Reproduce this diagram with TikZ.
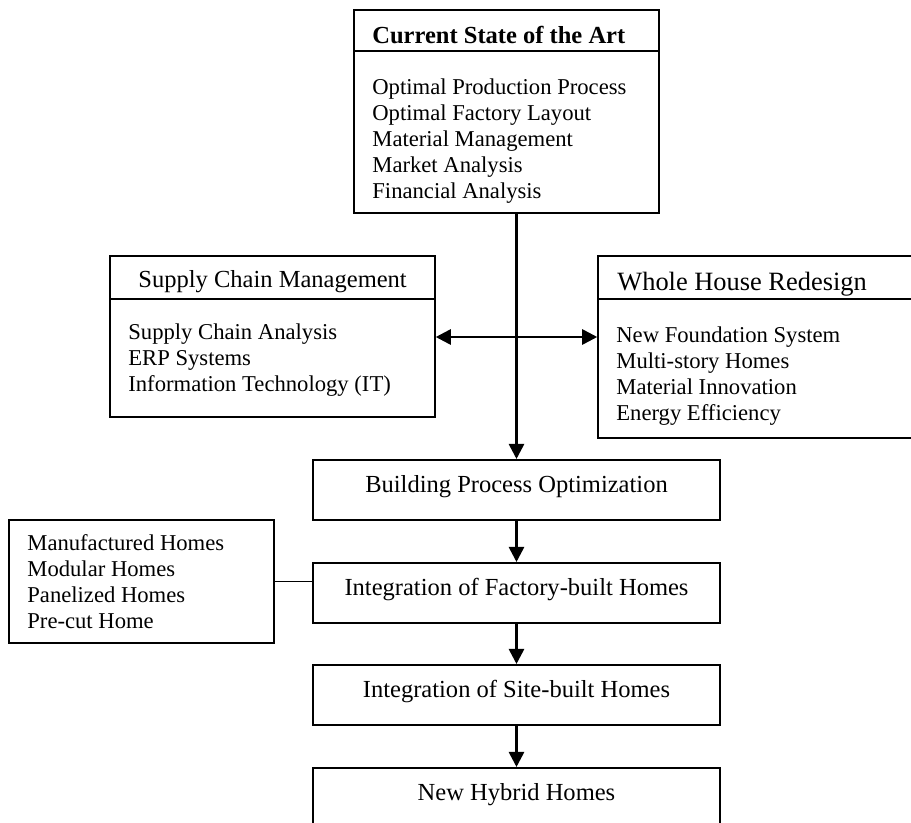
\documentclass[tikz,border=0pt]{standalone}
\usepackage{fontspec}
\setmainfont{Liberation Serif}
\usetikzlibrary{arrows.meta}

\begin{document}
\begin{tikzpicture}[x=0.53pt,y=-0.53pt,>={Triangle[length=8pt,width=8pt]},
	frame/.style={draw,line width=0.8pt,inner sep=0pt},
	item/.style={font=\fontsize{12}{14}\selectfont,anchor=base west,inner sep=0pt},
	head/.style={font=\fontsize{13}{15}\selectfont,anchor=base west,inner sep=0pt},
	stage/.style={draw,line width=0.8pt,anchor=north,font=\fontsize{13}{15}\selectfont,
		minimum width={407*0.53pt},inner sep=0pt,text height=17.5pt,text depth=14.3pt},
	link/.style={->,line width=1.4pt}]
	\clip (0,0) rectangle (911,823);

	%frames
	\node[frame,minimum width={305*0.53pt},minimum height={203*0.53pt}] (cur) at (506.5,111.5) {};
	\node[frame,minimum width={325*0.53pt},minimum height={161*0.53pt}] (scm) at (272.5,336.5) {};
	\node[frame,minimum width={340*0.53pt},minimum height={182*0.53pt}] (whr) at (768,347) {};
	\node[frame,minimum width={265*0.53pt},minimum height={123*0.53pt}] (man) at (141.5,581.5) {};
	%
	\draw[line width=0.8pt] (cur.west |- 0,51) -- (cur.east |- 0,51);
	\draw[line width=0.8pt] (scm.west |- 0,299) -- (scm.east |- 0,299);
	\draw[line width=0.8pt] (whr.west |- 0,299) -- (whr.east |- 0,299);

	%headings
	\node[head,font=\bfseries\fontsize{13}{15}\selectfont] (cur-h) at (372,43) {Current State of the Art};
	\node[head] (scm-h) at (138,287) {Supply Chain Management};
	\node[head,font=\fontsize{14}{16}\selectfont] (whr-h) at (617,290) {Whole House Redesign};

	%lists
	\foreach \t [count=\i] in {Optimal Production Process,Optimal Factory Layout,Material Management,Market Analysis,Financial Analysis}
	\node[item] (cur-\i) at (372,{94+26.2*(\i-1)}) {\t};
	
	\foreach \t [count=\i] in {Supply Chain Analysis,ERP Systems,Information Technology (IT)}
	\node[item] (scm-\i) at (128,{339+26.2*(\i-1)}) {\t};
	
	\foreach \t [count=\i] in {New Foundation System,Multi-story Homes,Material Innovation,Energy Efficiency}
	\node[item] (whr-\i) at (616,{342+26.2*(\i-1)}) {\t};
	
	\foreach \t [count=\i] in {Manufactured Homes,Modular Homes,Panelized Homes,Pre-cut Home}
	\node[item] (man-\i) at (27,{550+26*(\i-1)}) {\t};

	%stages
	\node[stage] (bpo) at (516.5,459) {Building Process Optimization};
	\node[stage] (fac) at (516.5,562) {Integration of Factory-built Homes};
	\node[stage] (site) at (516.5,664) {Integration of Site-built Homes};
	\node[stage] (hyb) at (516.5,767) {New Hybrid Homes};

	%connectors
	\coordinate (mid) at (514,337);
	\draw[link] (cur.south -| bpo.north) -- (bpo.north);
	\draw[link,<->] (scm.east |- mid) -- (whr.west |- mid);
	\draw[link] (bpo.south) -- (fac.north);
	\draw[link] (fac.south) -- (site.north);
	\draw[link] (site.south) -- (hyb.north);
	\draw[line width=0.8pt] (man.east) -- (man.east -| fac.west);
\end{tikzpicture}
\end{document}
